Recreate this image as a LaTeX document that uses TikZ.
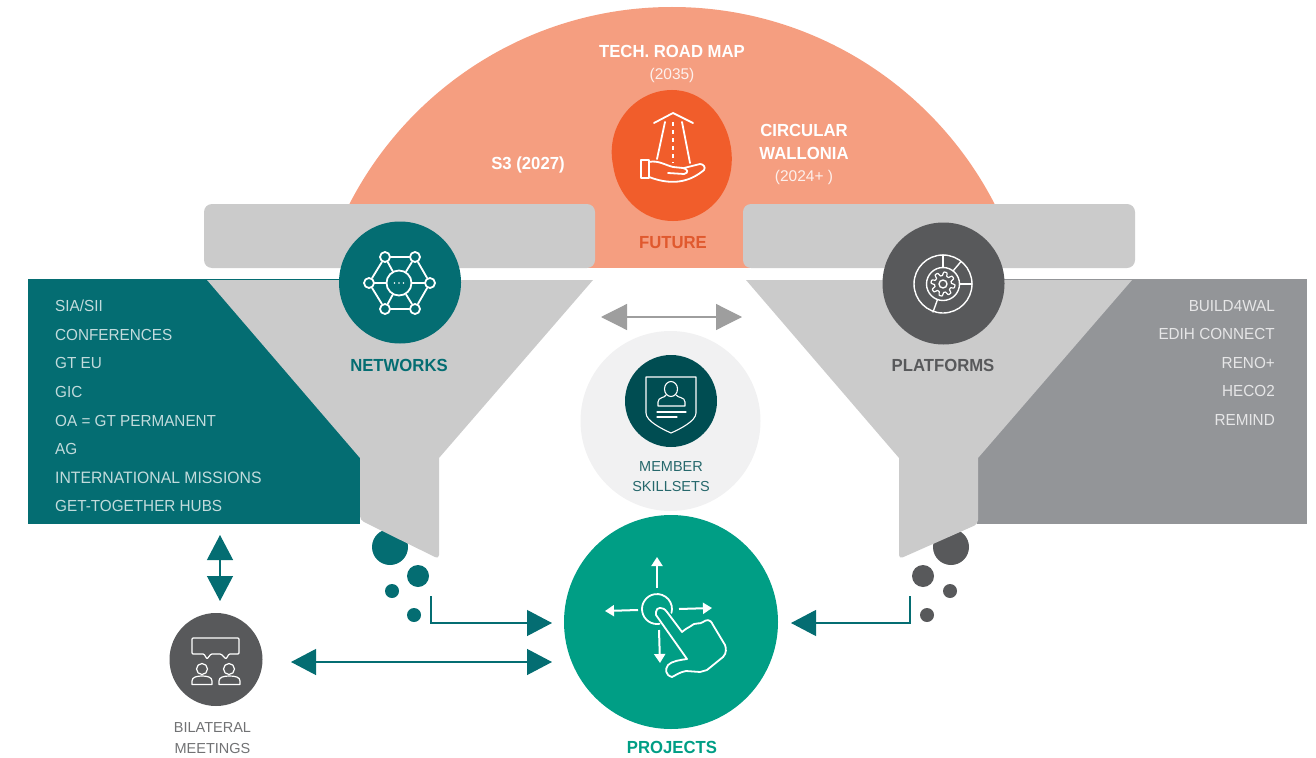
\documentclass[tikz,border=0pt]{standalone}
\usepackage{fontspec}
\setmainfont{Liberation Sans}
\newfontfamily\narrowf[FakeStretch=0.955]{Liberation Sans}
\usetikzlibrary{arrows.meta}
\definecolor{teal1}{HTML}{046D72}
\definecolor{tealdk}{HTML}{004D52}
\definecolor{green1}{HTML}{009E85}
\definecolor{peach}{HTML}{F59E80}
\definecolor{orange1}{HTML}{F15D2B}
\definecolor{orangetx}{HTML}{E0592E}
\definecolor{fun}{HTML}{CBCBCB}
\definecolor{darkg}{HTML}{58595B}
\definecolor{midg}{HTML}{939598}
\definecolor{arrg}{HTML}{9E9E9E}
\definecolor{lite}{HTML}{F1F1F2}
\definecolor{listL}{HTML}{C2DBDC}
\definecolor{listR}{HTML}{E6E6E7}
\tikzset{
  disc/.style={circle,inner sep=0pt,minimum size=#1,text width=0pt},
  head/.style={font=\narrowf\bfseries\fontsize{17.5}{20}\selectfont,inner sep=0pt},
  sub/.style={font=\fontsize{15.5}{18}\selectfont,inner sep=0pt},
  small/.style={font=\fontsize{14.5}{17}\selectfont,inner sep=0pt},
  listl/.style={font=\narrowf\fontsize{16}{18}\selectfont,inner sep=0pt,anchor=west,text=listL},
  listr/.style={font=\narrowf\fontsize{16}{18}\selectfont,inner sep=0pt,anchor=east,text=listR},
  conn/.style={draw=teal1,line width=1.1pt},
  bigarrow/.style={teal1,line width=1.2pt,{Triangle[length=25pt,width=26pt]}-{Triangle[length=25pt,width=26pt]}},
  onearrow/.style={conn,-{Triangle[length=25pt,width=26pt]}},
  grayarrow/.style={arrg,line width=1.2pt,{Triangle[length=26pt,width=26pt]}-{Triangle[length=26pt,width=26pt]}},
  ico/.style={draw=white,line width=1.8pt,line join=round,line cap=round},
  icothin/.style={draw=white,line width=1.4pt,line join=round,line cap=round},
  whitehead/.style={-{Triangle[length=9pt,width=11pt]},draw=white,line width=2pt,line cap=butt},
}
\begin{document}
\begin{tikzpicture}[x=1pt,y=-1pt]
\useasboundingbox (0,0) rectangle (1316,757);
% dome
\begin{scope}
\clip (300,0) rectangle (1050,267.5);
\fill[peach] (672,369.5) circle[radius=362.5];
\end{scope}
% side panels
\fill[teal1] (28,279) rectangle (360,524);
\fill[midg] (977,279) rectangle (1307,524);
% top bars
\fill[fun,rounded corners=8pt] (204,204) rectangle (595,268);
\fill[fun,rounded corners=8pt] (743,204) rectangle (1135,268);
% dots
\node[disc=36pt,fill=teal1] (dL1) at (390,547) {};
\node[disc=22pt,fill=teal1] (dL2) at (418,576) {};
\node[disc=14pt,fill=teal1] (dL3) at (392,591) {};
\node[disc=14pt,fill=teal1] (dL4) at (414,615) {};
\node[disc=36pt,fill=darkg] (dR1) at (951,547) {};
\node[disc=22pt,fill=darkg] (dR2) at (923,576) {};
\node[disc=14pt,fill=darkg] (dR3) at (950,591) {};
\node[disc=14pt,fill=darkg] (dR4) at (927,615) {};
% funnels
\fill[fun] (207,280) -- (593,280) -- (439,458) [rounded corners=4pt] -- (439,559) -- (360,520) [sharp corners] -- (360,458) -- cycle;
\fill[fun] (746,280) -- (1132,280) -- (978,458) [rounded corners=4pt] -- (978,524) -- (899,559) [sharp corners] -- (899,458) -- cycle;
% circles
\node[disc=122pt,fill=teal1] (networks) at (400,282.5) {};
\node[disc=122pt,fill=darkg] (platforms) at (943.5,283.5) {};
\node[disc=180pt,fill=lite] (skills) at (670.5,421) {};
\node[disc=92pt,fill=tealdk] (skillsicon) at (671,401) {};
\node[disc=214pt,fill=green1] (projects) at (671,622) {};
\node[disc=93pt,fill=darkg] (bilat) at (216,659.5) {};
% future blob
\fill[orange1] (672,90) .. controls (702,90) and (726,115) .. (731,148) .. controls (737,190) and (708,221) .. (673,221) .. controls (640,221) and (617,195) .. (613,165) .. controls (605,125) and (635,90) .. (672,90) -- cycle;
% texts
\node[head,text=white] (t1) at (672,51) {TECH. ROAD MAP};
\node[sub,text=white!85!peach] (t2) at (672,75) {(2035)};
\node[head,text=white] (t3) at (528,165) {S3 (2027)};
\node[head,text=white] (t4) at (804,130) {CIRCULAR};
\node[head,text=white] (t5) at (804,153) {WALLONIA};
\node[sub,text=white!85!peach] (t6) at (804,177) {(2024+ )};
\node[head,text=orangetx] (future) at (673,243) {FUTURE};
\node[head,text=teal1] (netl) at (399,365) {NETWORKS};
\node[head,text=darkg] (plat) at (943,365) {PLATFORMS};
\node[small,text=tealdk!85!white] (m1) at (671,467) {MEMBER};
\node[small,text=tealdk!85!white] (m2) at (671,487) {SKILLSETS};
\node[small,text=darkg!85!white] (b1) at (212.5,728) {BILATERAL};
\node[small,text=darkg!85!white] (b2) at (212.5,748) {MEETINGS};
\node[head,text=green1] (projl) at (672,747) {PROJECTS};
% lists
\node[listl] (l1) at (55,306) {SIA/SII};
\node[listl] (l2) at (55,335) {CONFERENCES};
\node[listl] (l3) at (55,363) {GT EU};
\node[listl] (l4) at (55,392) {GIC};
\node[listl] (l5) at (55,421) {OA = GT PERMANENT};
\node[listl] (l6) at (55,449) {AG};
\node[listl,font=\narrowf\fontsize{16.5}{18}\selectfont] (l7) at (55,478) {INTERNATIONAL MISSIONS};
\node[listl] (l8) at (55,506) {GET-TOGETHER HUBS};
\node[listr] (r1) at (1275,306) {BUILD4WAL};
\node[listr] (r2) at (1275,334) {EDIH CONNECT};
\node[listr] (r3) at (1275,363) {RENO+};
\node[listr] (r4) at (1275,391) {HECO2};
\node[listr] (r5) at (1275,420) {REMIND};
% connectors
\coordinate (eL) at (431,596);
\coordinate (eR) at (910,596);
\coordinate (pL) at (552,623);
\coordinate (pR) at (791,623);
\coordinate (bA) at (291,662);
\coordinate (bB) at (552,662);
\coordinate (vA) at (220,535);
\coordinate (vB) at (220,601);
\coordinate (gA) at (601,317);
\coordinate (gB) at (742,317);
\draw[onearrow] (eL) |- (pL);
\draw[onearrow] (eR) |- (pR);
\draw[bigarrow] (bA) -- (bB);
\draw[bigarrow] (vA) -- (vB);
\draw[grayarrow] (gA) -- (gB);
% road icon
\begin{scope}[ico]
\draw (654,123) -- (673,113) -- (693,123);
\draw (665,122) -- (657,159);
\draw (682,122) -- (690,163);
\draw[dash pattern=on 4pt off 4pt,line cap=butt] (673,122) -- (673,163);
\draw (649,160) -- (641,160) -- (641,178) -- (649,178) -- cycle;
\draw (649,162) .. controls (658,160) and (665,165) .. (673,167) -- (683,168) .. controls (688,169) and (689,173) .. (684,174) -- (668,173);
\draw (684,168) -- (700,164) .. controls (703,164) and (706,167) .. (704,170) .. controls (692,180) and (675,187) .. (649,177);
\end{scope}
% network icon
\begin{scope}[ico]
\node[disc=25pt,draw=white,line width=1.8pt] (hub) at (399,283) {};
\node[disc=10pt,draw=white,line width=1.8pt] (n1) at (369,283) {};
\node[disc=10pt,draw=white,line width=1.8pt] (n2) at (385,257) {};
\node[disc=10pt,draw=white,line width=1.8pt] (n3) at (415,257) {};
\node[disc=10pt,draw=white,line width=1.8pt] (n4) at (430,283) {};
\node[disc=10pt,draw=white,line width=1.8pt] (n5) at (415,309) {};
\node[disc=10pt,draw=white,line width=1.8pt] (n6) at (385,309) {};
\draw (n1) -- (n2); \draw (n2) -- (n3); \draw (n3) -- (n4);
\draw (n4) -- (n5); \draw (n5) -- (n6); \draw (n6) -- (n1);
\draw (hub) -- (n1); \draw (hub) -- (n2); \draw (hub) -- (n3);
\draw (hub) -- (n4); \draw (hub) -- (n5); \draw (hub) -- (n6);
\fill[white] (394.5,283) circle[radius=.8] (399,283) circle[radius=.8] (403.5,283) circle[radius=.8];
\end{scope}
% gear icon
\begin{scope}[icothin]
\draw (943,284) circle[radius=29];
\draw (943,284) circle[radius=16.5];
\draw (943,284) circle[radius=4];
\draw (943,255) -- (943,267.5);
\draw (961,261.5) -- (953,271);
\draw (972,284) -- (959.5,284);
\draw (933,312) -- (937.5,299.5);
\draw[line width=1.2pt] plot[domain=0:360,samples=145] ({943+(10.2+1.8*max(min(2*sin(8*\x),1),-1))*cos(\x)},{284+(10.2+1.8*max(min(2*sin(8*\x),1),-1))*sin(\x)});
\end{scope}
% touch icon
\begin{scope}[ico]
\draw (659.6,623.8) arc[start angle=80,end angle=375,radius=15];
\draw[whitehead] (657,588) -- (657,557);
\draw[whitehead] (638,610) -- (605,611);
\draw[whitehead] (679,609) -- (712,608);
\draw[whitehead] (659,630) -- (660,663);
\draw (656,615) -- (687,659) .. controls (680,660) and (672,661) .. (668,665) .. controls (665,669) and (665,675) .. (672,677) .. controls (676,675) and (680,672) .. (686,671) -- (700,672) -- (707,670) -- (723,657) .. controls (727,653) and (726,648) .. (725,645) -- (713,625) .. controls (710,618) and (706,620) .. (703,622) .. controls (699,625) and (697,622) .. (694,624) .. controls (691,627) and (689,626) .. (682,632) -- (667,612) .. controls (663,606) and (656,607) .. (656,612) -- cycle;
\end{scope}
% shield icon
\begin{scope}[icothin,line width=1.1pt]
\draw (646,377) -- (696,377) -- (696,413) .. controls (696,421) and (680,429) .. (671,433) .. controls (662,429) and (646,421) .. (646,413) -- cycle;
\draw (671,389) ellipse[x radius=6.5,y radius=7.5];
\draw (666,395) .. controls (665,398) and (658,397) .. (658,402) -- (658,406) -- (685,406) -- (685,402) .. controls (685,397) and (678,398) .. (676,395);
\draw (657,412) -- (686,412);
\draw (657,417) -- (677,417);
\end{scope}
% bilateral icon
\begin{scope}[icothin,line width=1.2pt]
\draw[rounded corners=1pt] (192,638) -- (239,638) -- (239,654) -- (229,654) -- (226,659) -- (221,654) -- (211,654) -- (207,659) -- (204,654) -- (192,654) -- cycle;
\draw (202,669) circle[radius=5.5];
\draw (229,669) circle[radius=5.5];
\draw (192,684.5) -- (192,681) .. controls (192,677) and (197,676) .. (202,676) .. controls (207,676) and (212,677) .. (212,681) -- (212,684.5) -- cycle;
\draw (219,684.5) -- (219,681) .. controls (219,677) and (224,676) .. (229.5,676) .. controls (235,676) and (240,677) .. (240,681) -- (240,684.5) -- cycle;
\end{scope}
\end{tikzpicture}
\end{document}
